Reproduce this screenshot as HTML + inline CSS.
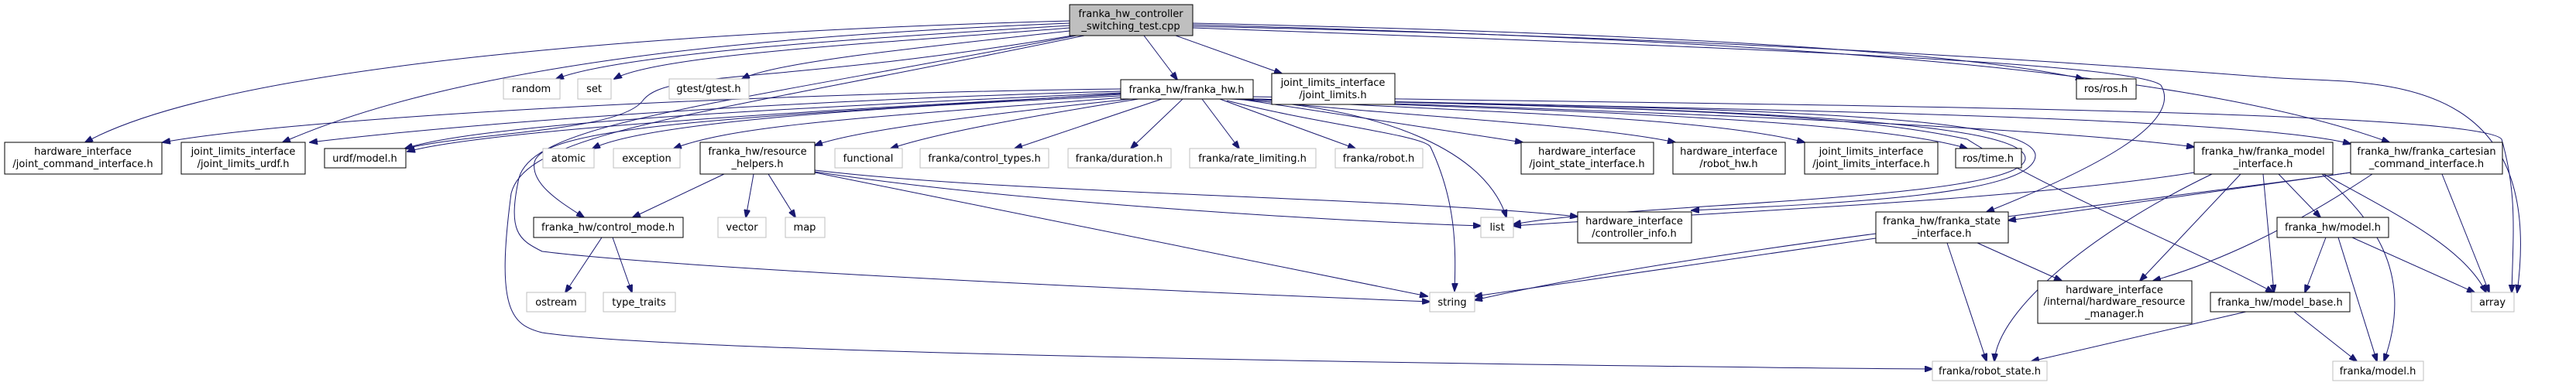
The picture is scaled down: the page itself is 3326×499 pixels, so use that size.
<!DOCTYPE html>
<html><head><meta charset="utf-8"><style>
html,body{margin:0;padding:0;background:#fff;}
svg{display:block;}
text{font-family:"DejaVu Sans","Liberation Sans",sans-serif;font-size:13px;fill:#000;text-anchor:middle;}
.b{fill:#fff;stroke:#000;stroke-width:1}
.g{fill:#fff;stroke:#bfbfbf;stroke-width:1}
path{fill:none;stroke:#191970;stroke-width:1;marker-end:url(#a)}
</style></head><body>
<svg width="3326" height="499" viewBox="0 0 3326 499" xmlns="http://www.w3.org/2000/svg">
<defs><marker id="a" markerUnits="userSpaceOnUse" markerWidth="11" markerHeight="8" refX="10" refY="4" orient="auto"><polygon points="0,0 11,4 0,8" fill="#191970" stroke="#191970"/></marker></defs>
<!-- root edges -->
<path d="M1381,27 C900,40 300,80 110,184"/>
<path d="M1381,30 C1000,45 600,80 365,184"/>
<path d="M1381,33 C1100,50 800,70 718,102"/>
<path d="M1381,36 C1150,55 850,70 793,102"/>
<path d="M1381,40 C1200,60 1000,80 958,102"/>
<path d="M1385,46 C1000,110 860,90 830,130 C800,170 620,170 523,192"/>
<path d="M1400,46 C900,150 680,170 660,250 C640,400 660,420 700,430 C900,460 2200,475 2495,477"/>
<path d="M1390,46 C900,140 690,160 670,230 C655,300 670,310 700,325 C900,350 1600,380 1846,390"/>
<path d="M1477,46 L1520,103"/>
<path d="M1518,46 L1655,95"/>
<path d="M1540,30 C2000,40 2500,60 2690,102"/>
<path d="M1540,32 C2200,50 2800,80 3085,184"/>
<path d="M1540,34 C2300,50 2800,90 2930,100 C3050,110 3290,80 3250,378"/>
<path d="M1540,36 C2200,60 2750,80 2790,110 C2820,160 2700,220 2565,274"/>
<!-- franka_hw edges -->
<path d="M1447,115 C1000,120 400,150 210,184"/>
<path d="M1447,118 C1000,130 600,160 400,184"/>
<path d="M1447,120 C1000,140 620,160 523,192"/>
<path d="M1447,122 C1000,145 620,170 526,196"/>
<path d="M1447,124 C1100,140 830,160 765,192"/>
<path d="M1450,126 C1150,150 950,160 870,192"/>
<path d="M1460,128 C1250,150 1100,170 1052,188"/>
<path d="M1470,128 C1300,155 1200,175 1150,192"/>
<path d="M1500,128 L1310,192"/>
<path d="M1527,128 L1460,192"/>
<path d="M1552,128 L1600,192"/>
<path d="M1575,128 L1750,192"/>
<path d="M1447,121 C1000,150 700,160 690,210 C685,240 730,265 754,281"/>
<path d="M1584,130 C1700,160 1840,175 1847,190 C1880,260 1880,320 1878,376"/>
<path d="M1590,128 C1800,140 1920,200 1945,281"/>
<path d="M1600,128 L1966,184"/>
<path d="M1605,128 C1800,150 2050,160 2163,184"/>
<path d="M1610,128 C1900,145 2200,150 2330,184"/>
<path d="M1612,128 C1900,140 2400,150 2540,192"/>
<path d="M1615,128 C2000,140 2600,160 2833,190"/>
<path d="M1616,128 C2200,140 2900,150 3035,186"/>
<path d="M1618,125 C2200,135 3200,140 3230,180 C3250,250 3245,300 3243,378"/>
<path d="M1615,128 C2200,140 2400,150 2540,180 C2650,250 2850,330 2935,378"/>
<path d="M1610,128 C2300,140 2620,150 2628,200 C2630,250 2400,262 2184,272"/>
<path d="M1610,128 C2300,140 2615,160 2615,205 C2610,260 2100,262 1954,290"/>
<!-- other edges -->
<path d="M935,225 L817,281"/>
<path d="M973,225 L963,281"/>
<path d="M992,225 L1027,281"/>
<path d="M1052,222 C1300,260 1700,285 1912,292"/>
<path d="M1052,220 C1300,250 1800,255 2037,280"/>
<path d="M1052,223 L1843,383"/>
<path d="M777,307 L730,378"/>
<path d="M791,307 L816,378"/>
<path d="M2833,223 C2600,260 2200,275 1954,292"/>
<path d="M3035,223 C2700,270 2200,320 1904,388"/>
<path d="M2893,225 L2763,363"/>
<path d="M2856,225 C2700,300 2580,400 2575,467"/>
<path d="M2922,225 L2936,378"/>
<path d="M2942,225 L2996,281"/>
<path d="M2998,225 C3060,280 3120,350 3078,467"/>
<path d="M3000,225 C3100,280 3180,320 3210,378"/>
<path d="M3035,223 L2593,285"/>
<path d="M3063,225 C2950,300 2860,340 2780,363"/>
<path d="M3153,225 L3214,378"/>
<path d="M2514,314 L2565,467"/>
<path d="M2553,314 L2662,363"/>
<path d="M2422,308 L1904,383"/>
<path d="M3003,307 L2976,378"/>
<path d="M3019,307 L3069,467"/>
<path d="M3037,307 L3195,378"/>
<path d="M2900,403 L2623,467"/>
<path d="M2962,403 L3043,467"/>
<!-- nodes -->
<rect x="1381" y="6" width="159" height="40" fill="#bfbfbf" stroke="#000"/>
<text x="1460" y="22">franka_hw_controller</text><text x="1460" y="38">_switching_test.cpp</text>
<rect class="b" x="1447" y="103" width="171" height="25"/><text x="1532" y="120">franka_hw/franka_hw.h</text>
<rect class="b" x="1642" y="95" width="159" height="40"/><text x="1721" y="111">joint_limits_interface</text><text x="1721" y="127">/joint_limits.h</text>
<rect class="g" x="650" y="102" width="73" height="26"/><text x="686" y="119">random</text>
<rect class="g" x="746" y="102" width="43" height="26"/><text x="767" y="119">set</text>
<rect class="g" x="864" y="102" width="103" height="26"/><text x="915" y="119">gtest/gtest.h</text>
<rect class="b" x="2681" y="102" width="77" height="26"/><text x="2719" y="119">ros/ros.h</text>
<rect class="b" x="6" y="184" width="203" height="41"/><text x="107" y="200">hardware_interface</text><text x="107" y="216">/joint_command_interface.h</text>
<rect class="b" x="234" y="184" width="160" height="41"/><text x="314" y="200">joint_limits_interface</text><text x="314" y="216">/joint_limits_urdf.h</text>
<rect class="b" x="419" y="192" width="105" height="25"/><text x="471" y="209">urdf/model.h</text>
<rect class="g" x="701" y="192" width="66" height="25"/><text x="734" y="209">atomic</text>
<rect class="g" x="792" y="192" width="86" height="25"/><text x="835" y="209">exception</text>
<rect class="b" x="904" y="184" width="148" height="41"/><text x="978" y="200">franka_hw/resource</text><text x="978" y="216">_helpers.h</text>
<rect class="g" x="1078" y="192" width="87" height="25"/><text x="1121" y="209">functional</text>
<rect class="g" x="1188" y="192" width="166" height="25"/><text x="1271" y="209">franka/control_types.h</text>
<rect class="g" x="1379" y="192" width="133" height="25"/><text x="1445" y="209">franka/duration.h</text>
<rect class="g" x="1536" y="192" width="163" height="25"/><text x="1617" y="209">franka/rate_limiting.h</text>
<rect class="g" x="1724" y="192" width="113" height="25"/><text x="1780" y="209">franka/robot.h</text>
<rect class="b" x="1964" y="184" width="171" height="41"/><text x="2049" y="200">hardware_interface</text><text x="2049" y="216">/joint_state_interface.h</text>
<rect class="b" x="2160" y="184" width="145" height="41"/><text x="2232" y="200">hardware_interface</text><text x="2232" y="216">/robot_hw.h</text>
<rect class="b" x="2330" y="184" width="172" height="41"/><text x="2416" y="200">joint_limits_interface</text><text x="2416" y="216">/joint_limits_interface.h</text>
<rect class="b" x="2525" y="192" width="85" height="25"/><text x="2567" y="209">ros/time.h</text>
<rect class="b" x="2833" y="184" width="179" height="41"/><text x="2922" y="200">franka_hw/franka_model</text><text x="2922" y="216">_interface.h</text>
<rect class="b" x="3035" y="184" width="196" height="41"/><text x="3133" y="200">franka_hw/franka_cartesian</text><text x="3133" y="216">_command_interface.h</text>
<rect class="b" x="689" y="281" width="193" height="26"/><text x="785" y="298">franka_hw/control_mode.h</text>
<rect class="g" x="927" y="281" width="62" height="26"/><text x="958" y="298">vector</text>
<rect class="g" x="1014" y="281" width="51" height="26"/><text x="1039" y="298">map</text>
<rect class="g" x="1912" y="281" width="42" height="26"/><text x="1933" y="298">list</text>
<rect class="b" x="2037" y="274" width="147" height="40"/><text x="2110" y="290">hardware_interface</text><text x="2110" y="306">/controller_info.h</text>
<rect class="b" x="2422" y="274" width="171" height="40"/><text x="2507" y="290">franka_hw/franka_state</text><text x="2507" y="306">_interface.h</text>
<rect class="b" x="2940" y="281" width="144" height="26"/><text x="3012" y="298">franka_hw/model.h</text>
<rect class="g" x="680" y="378" width="76" height="25"/><text x="718" y="395">ostream</text>
<rect class="g" x="779" y="378" width="93" height="25"/><text x="825" y="395">type_traits</text>
<rect class="g" x="1846" y="378" width="58" height="25"/><text x="1875" y="395">string</text>
<rect class="b" x="2631" y="363" width="199" height="55"/><text x="2730" y="379">hardware_interface</text><text x="2730" y="394">/internal/hardware_resource</text><text x="2730" y="410">_manager.h</text>
<rect class="b" x="2854" y="378" width="180" height="25"/><text x="2944" y="395">franka_hw/model_base.h</text>
<rect class="g" x="3191" y="378" width="55" height="25"/><text x="3218" y="395">array</text>
<rect class="g" x="2495" y="467" width="148" height="25"/><text x="2569" y="484">franka/robot_state.h</text>
<rect class="g" x="3012" y="467" width="117" height="25"/><text x="3070" y="484">franka/model.h</text>
</svg>
</body></html>
